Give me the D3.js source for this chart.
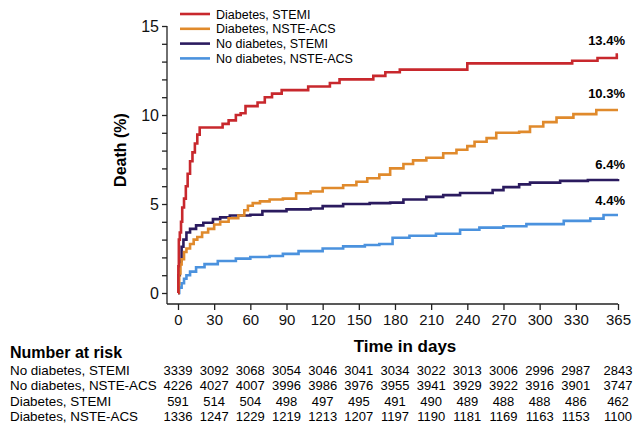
<!DOCTYPE html>
<html>
<head>
<meta charset="utf-8">
<script src="https://cdn.jsdelivr.net/npm/d3@7"></script>
<style>
  body { margin: 0; background: #fff; }
  svg { font-family: Arial, "Liberation Sans", sans-serif; }
</style>
</head>
<body>
<svg id="km" width="636" height="426"></svg>
<script>
// cumulative death (%), [day, value]
const dmStemi = [[0,0],[0.3,1.5],[0.7,3.0],[1.5,3.4],[2.5,4.0],[3.5,4.8],[5,5.3],[6.5,6.0],[8,6.7],[10,7.4],[12,7.9],[14,8.4],[16,8.9],[18,9.3],[37,9.5],[42,9.7],[48,10.0],[52,10.1],[56,10.5],[66,10.7],[72,11.0],[78,11.2],[86,11.4],[108,11.6],[126,11.8],[134,12.0],[162,12.2],[172,12.4],[184,12.55],[240,12.9],[327,13.05],[348,13.2],[364,13.4],[365,13.4]];
const dmNste = [[0,0],[0.5,0.5],[1,1.1],[2,1.6],[3,1.9],[5,2.3],[7,2.5],[10,2.75],[13,3.0],[16,3.15],[20,3.4],[25,3.6],[30,3.85],[35,4.0],[42,4.2],[50,4.35],[55,4.65],[58,4.9],[62,5.05],[68,5.15],[76,5.25],[87,5.3],[98,5.6],[110,5.7],[120,5.9],[137,6.05],[148,6.25],[157,6.45],[167,6.65],[176,7.0],[187,7.25],[195,7.45],[206,7.6],[220,7.85],[231,8.05],[240,8.25],[246,8.5],[256,8.7],[264,9.0],[283,9.05],[292,9.35],[303,9.6],[314,9.85],[328,10.05],[347,10.28],[365,10.28]];
const noDmStemi = [[0,0],[0.5,1.0],[1.5,1.8],[3,2.6],[4.5,3.0],[7,3.4],[10,3.6],[15,3.8],[21,3.95],[29,4.15],[35,4.25],[43,4.35],[60,4.4],[70,4.6],[90,4.7],[110,4.75],[120,4.88],[137,5.0],[159,5.05],[176,5.08],[187,5.25],[206,5.4],[220,5.5],[234,5.62],[261,5.78],[270,5.95],[283,6.1],[292,6.2],[317,6.3],[340,6.35],[365,6.4]];
const noDmNste = [[0,0],[1,0.3],[3,0.55],[5,0.8],[7,1.0],[10,1.2],[15,1.45],[22,1.62],[33,1.8],[48,1.93],[60,2.02],[76,2.08],[87,2.2],[100,2.35],[120,2.5],[137,2.62],[155,2.7],[167,2.75],[178,3.1],[192,3.22],[214,3.33],[234,3.55],[250,3.67],[270,3.75],[289,3.87],[320,4.05],[342,4.18],[353,4.38],[365,4.38]];

const seriesNames = ["Diabetes, STEMI", "Diabetes, NSTE-ACS", "No diabetes, STEMI", "No diabetes, NSTE-ACS"];
const seriesColors = ["#c8282d", "#e08a2c", "#2b1b5f", "#4b92de"];
const endLabels = ["13.4%", "10.3%", "6.4%", "4.4%"];

const xTicks = [0, 30, 60, 90, 120, 150, 180, 210, 240, 270, 300, 330, 365];
const yTicks = [0, 5, 10, 15];

const riskRows = ["No diabetes, STEMI", "No diabetes, NSTE-ACS", "Diabetes, STEMI", "Diabetes, NSTE-ACS"];
const riskNoDmStemi = [3339, 3092, 3068, 3054, 3046, 3041, 3034, 3022, 3013, 3006, 2996, 2987, 2843];
const riskNoDmNste = [4226, 4027, 4007, 3996, 3986, 3976, 3955, 3941, 3929, 3922, 3916, 3901, 3747];
const riskDmStemi = [591, 514, 504, 498, 497, 495, 491, 490, 489, 488, 488, 486, 462];
const riskDmNste = [1336, 1247, 1229, 1219, 1213, 1207, 1197, 1190, 1181, 1169, 1163, 1153, 1100];

const svg = d3.select("#km");

const x = d3.scaleLinear().domain([0, 365]).range([178, 618]);
const y = d3.scaleLinear().domain([0, 15]).range([293, 26]);

// axes, offset from the plot like the original
svg.append("g")
    .attr("transform", "translate(0,304)")
    .call(d3.axisBottom(x).tickValues(xTicks).tickSize(6).tickPadding(4))
    .call(g => g.select(".domain").attr("d", `M167,0H${x(365)}`))
    .call(g => g.selectAll("text").attr("font-size", 15).attr("font-family", "Arial, 'Liberation Sans', sans-serif").attr("fill", "#111"));

svg.append("g")
    .attr("transform", "translate(167,0)")
    .call(d3.axisLeft(y).tickValues(d3.range(0, 16)).tickSize(5).tickPadding(3)
        .tickFormat(d => yTicks.includes(d) ? d : ""))
    .call(g => g.select(".domain").attr("d", `M0,${y(15)}V304`))
    .call(g => g.selectAll("text").attr("font-size", 16).attr("font-family", "Arial, 'Liberation Sans', sans-serif").attr("fill", "#111"));

svg.selectAll(".domain, .tick line").attr("stroke", "#222").attr("stroke-width", 1.3);

svg.append("text")
    .attr("transform", "translate(126,150) rotate(-90)")
    .attr("text-anchor", "middle")
    .attr("font-size", 16).attr("font-weight", "bold")
    .text("Death (%)");

svg.append("text")
    .attr("x", 405).attr("y", 352)
    .attr("text-anchor", "middle")
    .attr("font-size", 17).attr("font-weight", "bold")
    .text("Time in days");

// curves
const line = d3.line().x(d => x(d[0])).y(d => y(d[1])).curve(d3.curveStepAfter);
const curves = [dmStemi, dmNste, noDmStemi, noDmNste];
[3, 2, 1, 0].forEach(i => {
    svg.append("path")
        .datum(curves[i])
        .attr("fill", "none")
        .attr("stroke", seriesColors[i])
        .attr("stroke-width", 2.6)
        .attr("d", line);
});

// end labels
const labelY = [45, 98, 169, 205];
endLabels.forEach((t, i) => {
    svg.append("text")
        .attr("x", 625).attr("y", labelY[i])
        .attr("text-anchor", "end")
        .attr("font-size", 13).attr("font-weight", "bold")
        .text(t);
});

// legend
const legend = svg.append("g");
seriesNames.forEach((n, i) => {
    const ly = 14 + i * 14.8;
    legend.append("line")
        .attr("x1", 180).attr("x2", 210).attr("y1", ly).attr("y2", ly)
        .attr("stroke", seriesColors[i]).attr("stroke-width", 2.6);
    legend.append("text")
        .attr("x", 216).attr("y", ly + 4.5)
        .attr("font-size", 12.5)
        .text(n);
});

// number at risk table
svg.append("text")
    .attr("x", 10).attr("y", 358)
    .attr("font-size", 16).attr("font-weight", "bold")
    .text("Number at risk");

const riskValues = [riskNoDmStemi, riskNoDmNste, riskDmStemi, riskDmNste];
riskRows.forEach((r, i) => {
    const ry = 375 + i * 15.4;
    svg.append("text")
        .attr("x", 10).attr("y", ry)
        .attr("font-size", 13.4)
        .text(r);
    svg.append("g").selectAll("text")
        .data(riskValues[i])
        .join("text")
        .attr("x", (d, j) => x(xTicks[j]))
        .attr("y", ry)
        .attr("text-anchor", "middle")
        .attr("font-size", 13)
        .text(d => d);
});
</script>
</body>
</html>
